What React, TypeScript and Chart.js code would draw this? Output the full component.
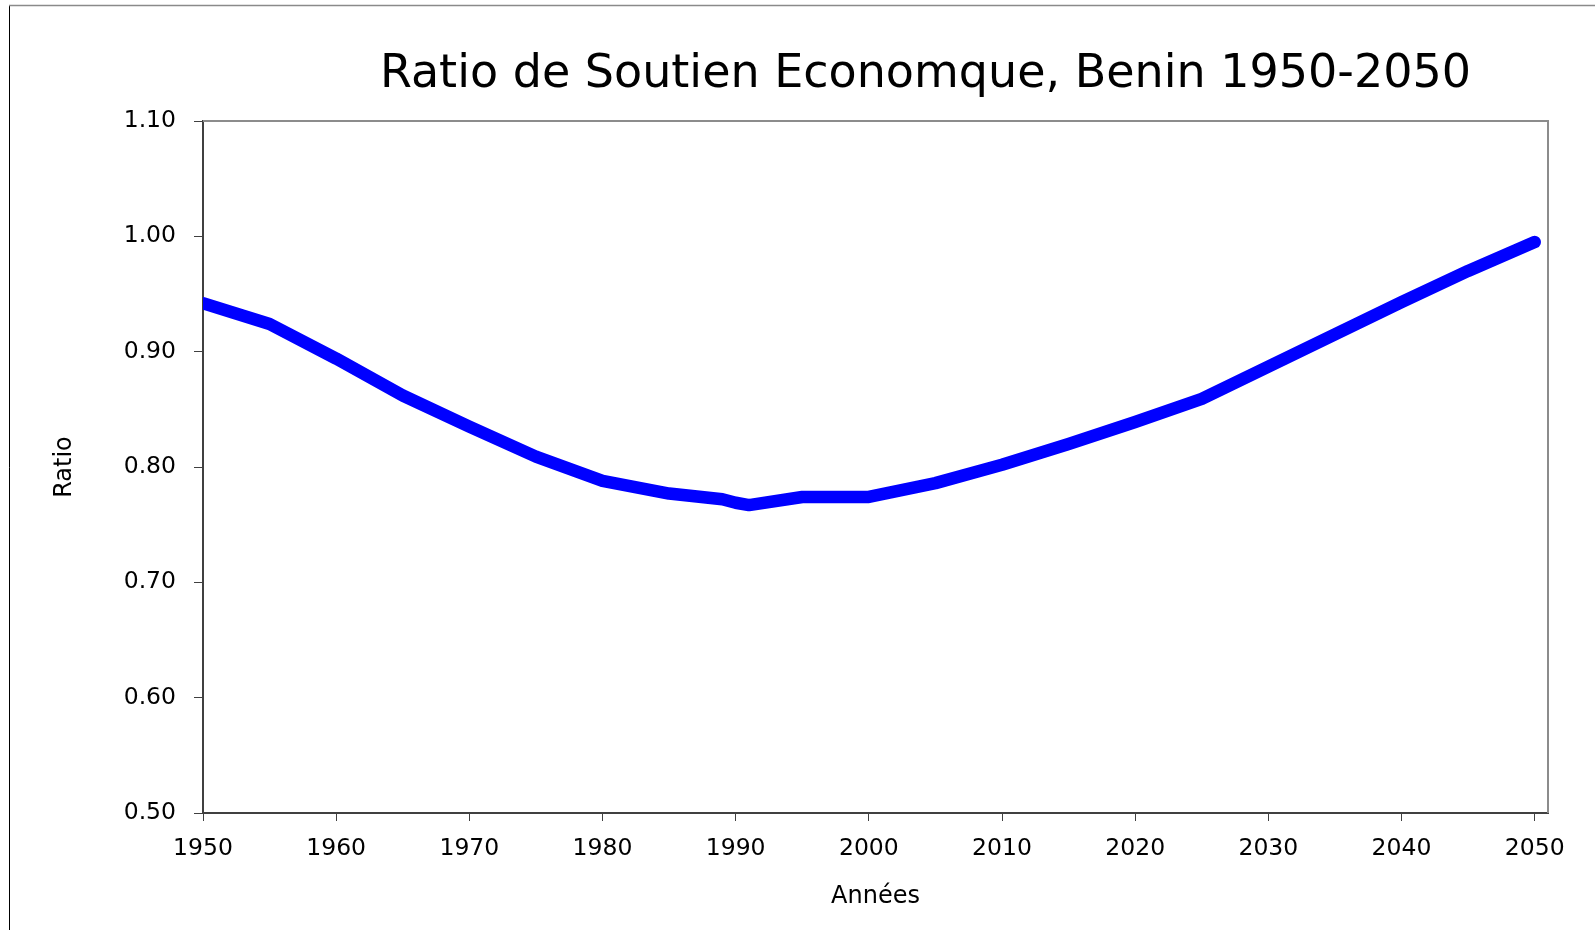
import React, { useEffect, useRef } from "react";
import { Chart, registerables } from "chart.js";

Chart.register(...registerables);

const titleText = "Ratio de Soutien Economque, Benin 1950-2050";
const xAxisTitle = "Années";
const yAxisTitle = "Ratio";

const years = [1950, 1955, 1960, 1965, 1970, 1975, 1980, 1985, 1989, 1990, 1991, 1995, 2000, 2005, 2010, 2015, 2020, 2025, 2030, 2035, 2040, 2045, 2050];
const ratio = [0.942, 0.924, 0.894, 0.862, 0.835, 0.809, 0.788, 0.777, 0.772, 0.769, 0.767, 0.774, 0.774, 0.786, 0.802, 0.820, 0.839, 0.859, 0.887, 0.915, 0.943, 0.970, 0.995];

const xTicks = [1950, 1960, 1970, 1980, 1990, 2000, 2010, 2020, 2030, 2040, 2050];
const yTicks = [0.5, 0.6, 0.7, 0.8, 0.9, 1.0, 1.1];

const FONT = "'DejaVu Sans', Verdana, sans-serif";

const decorPlugin = {
  id: "decor",
  beforeDraw(chart: any) {
    const { ctx, width, height } = chart;
    ctx.save();
    ctx.fillStyle = "#ffffff";
    ctx.fillRect(0, 0, width, height);
    ctx.strokeStyle = "#000000";
    ctx.lineWidth = 1;
    ctx.beginPath();
    ctx.moveTo(9.5, height);
    ctx.lineTo(9.5, 5.5);
    ctx.stroke();
    ctx.strokeStyle = "#8a8a8a";
    ctx.lineWidth = 1.3;
    ctx.beginPath();
    ctx.moveTo(9, 5.5);
    ctx.lineTo(width, 5.5);
    ctx.stroke();
    ctx.restore();
  },
  afterDraw(chart: any) {
    const { ctx, chartArea } = chart;
    ctx.save();
    ctx.strokeStyle = "#8c8c8c";
    ctx.lineWidth = 2;
    ctx.beginPath();
    ctx.moveTo(chartArea.left, chartArea.top);
    ctx.lineTo(chartArea.right, chartArea.top);
    ctx.lineTo(chartArea.right, chartArea.bottom);
    ctx.stroke();
    ctx.fillStyle = "#000000";
    ctx.font = `46px ${FONT}`;
    ctx.textAlign = "center";
    ctx.textBaseline = "alphabetic";
    ctx.fillText(titleText, (chartArea.left + chartArea.right) / 2 + 50, 87);
    ctx.restore();
  },
};

export default function App() {
  const ref = useRef<HTMLCanvasElement | null>(null);

  useEffect(() => {
    if (!ref.current) return;
    const chart = new Chart(ref.current, {
      type: "line",
      data: {
        datasets: [
          {
            label: yAxisTitle,
            data: years.map((yr, i) => ({ x: yr, y: ratio[i] })),
            borderColor: "#0000ff",
            backgroundColor: "#0000ff",
            borderWidth: 12.5,
            borderCapStyle: "round",
            borderJoinStyle: "round",
            pointRadius: 0,
            tension: 0,
            fill: false,
          },
        ],
      },
      options: {
        responsive: false,
        animation: false,
        layout: { padding: { top: 121, right: 47, left: 0, bottom: 0 } },
        plugins: {
          legend: { display: false },
          title: { display: false },
          tooltip: { enabled: false },
        },
        scales: {
          x: {
            type: "linear",
            min: 1950,
            max: 2051,
            afterBuildTicks: (scale: any) => {
              scale.ticks = xTicks.map((v) => ({ value: v }));
            },
            afterFit: (scale: any) => {
              scale.height = 117;
            },
            grid: {
              display: true,
              drawOnChartArea: false,
              drawTicks: true,
              tickLength: 8,
              tickColor: "#404040",
              tickWidth: 1,
            },
            border: { display: true, color: "#404040", width: 2 },
            ticks: {
              padding: 14,
              color: "#000000",
              font: { family: FONT, size: 23.5 },
              maxRotation: 0,
              autoSkip: false,
              callback: (v: any) => String(v),
            },
            title: {
              display: true,
              text: xAxisTitle,
              color: "#000000",
              font: { family: FONT, size: 24 },
              padding: { top: 0, bottom: 19 },
            },
          },
          y: {
            type: "linear",
            min: 0.5,
            max: 1.1,
            afterBuildTicks: (scale: any) => {
              scale.ticks = yTicks.map((v) => ({ value: v }));
            },
            afterFit: (scale: any) => {
              scale.width = 203;
            },
            grid: {
              display: true,
              drawOnChartArea: false,
              drawTicks: true,
              tickLength: 9,
              tickColor: "#404040",
              tickWidth: 1,
            },
            border: { display: true, color: "#404040", width: 2 },
            ticks: {
              padding: 18,
              color: "#000000",
              font: { family: FONT, size: 23.5 },
              callback: (v: any) => Number(v).toFixed(2),
            },
            title: {
              display: true,
              text: yAxisTitle,
              color: "#000000",
              font: { family: FONT, size: 24 },
              padding: { top: 50, bottom: 0 },
            },
          },
        },
      },
      plugins: [decorPlugin],
    });
    return () => chart.destroy();
  }, []);

  return (
    <div style={{ position: "absolute", left: 0, top: 0, width: 1595, height: 930 }}>
      <canvas ref={ref} width={1595} height={930} style={{ display: "block" }} />
    </div>
  );
}
